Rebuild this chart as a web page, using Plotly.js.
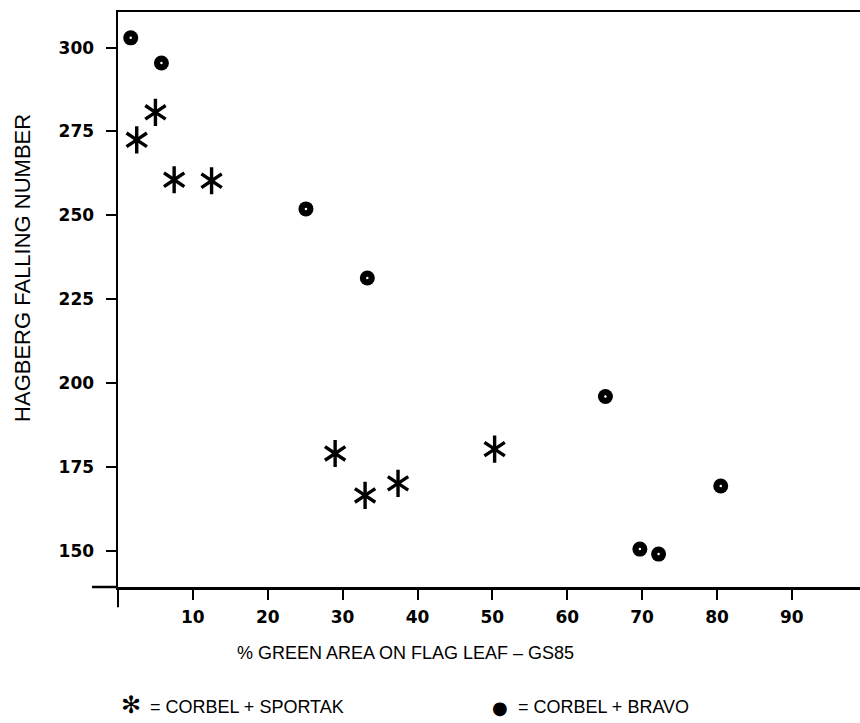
<!DOCTYPE html>
<html>
<head>
<meta charset="utf-8">
<script src="https://cdn.plot.ly/plotly-3.0.1.min.js"></script>
<style>html,body{margin:0;padding:0;background:#fff;}</style>
</head>
<body>
<div id="chart" style="width:860px;height:723px;"></div>
<script>
// Data
const sportakX = [2.5, 5.0, 7.5, 12.5, 29.0, 33.0, 37.4, 50.3];
const sportakY = [272.5, 280.7, 260.6, 260.3, 179.0, 166.5, 170.1, 180.3];
const bravoX = [1.7, 5.8, 25.1, 33.3, 65.1, 69.7, 72.2, 80.5];
const bravoY = [302.9, 295.4, 251.9, 231.3, 196.0, 150.5, 149.0, 169.3];
const xTicks = [10, 20, 30, 40, 50, 60, 70, 80, 90];
const yTicks = [150, 175, 200, 225, 250, 275, 300];
const xTitle = '% GREEN AREA ON FLAG LEAF \u2013 GS85';
const yTitle = 'HAGBERG FALLING NUMBER';
const sportakLabel = '= CORBEL + SPORTAK';
const bravoLabel = '= CORBEL + BRAVO';
const starGlyph = '\u273B';
const dotGlyph = '\u25CF';

const tickFont = {family: 'DejaVu Sans', size: 17, color: '#000', weight: 'bold'};
const titleFont = {family: 'Liberation Sans, Arial, sans-serif', size: 22, color: '#000'};
const legendFont = {family: 'Liberation Sans, Arial, sans-serif', size: 18, color: '#000'};

// six-armed asterisk built from two three-armed marker symbols
const starArms = ['y-up-open', 'y-down-open'];
const starTraces = starArms.map(sym => ({
  x: sportakX, y: sportakY, type: 'scatter', mode: 'markers',
  marker: {symbol: sym, size: 17, color: '#000', line: {width: 3.4, color: '#000'}},
  hoverinfo: 'skip', showlegend: false, cliponaxis: false
}));

const traces = starTraces.concat([
  {
    x: bravoX, y: bravoY, type: 'scatter', mode: 'markers',
    marker: {symbol: 'circle', size: 15, color: '#000', line: {width: 0}},
    hoverinfo: 'skip', showlegend: false, cliponaxis: false
  },
  {
    x: bravoX, y: bravoY, type: 'scatter', mode: 'markers',
    marker: {symbol: 'circle', size: 2.5, color: '#fff', line: {width: 0}},
    hoverinfo: 'skip', showlegend: false, cliponaxis: false
  }
]);

const layout = {
  width: 860, height: 723, autosize: false,
  margin: {l: 118, r: 0, t: 12, b: 136, pad: 0},
  paper_bgcolor: '#fff', plot_bgcolor: '#fff',
  showlegend: false,
  xaxis: {
    range: [0, 99.1], showgrid: false, zeroline: false,
    showline: true, linecolor: '#000', linewidth: 2.5, mirror: true,
    ticks: 'outside', ticklen: 10, tickwidth: 2, tickcolor: '#000',
    tickmode: 'array', tickvals: xTicks, ticktext: xTicks.map(String),
    tickfont: tickFont, ticklabelstandoff: 3
  },
  yaxis: {
    range: [139.2, 310.6], showgrid: false, zeroline: false,
    showline: true, linecolor: '#000', linewidth: 2.5, mirror: false,
    ticks: 'outside', ticklen: 10, tickwidth: 2, tickcolor: '#000',
    tickmode: 'array', tickvals: yTicks, ticktext: yTicks.map(String),
    tickfont: tickFont, ticklabelstandoff: 8
  },
  shapes: [
    {type: 'line', xref: 'paper', yref: 'paper', x0: -0.035, x1: 0, y0: 0, y1: 0,
     line: {color: '#000', width: 2.5}},
    {type: 'line', xref: 'paper', yref: 'paper', x0: 0, x1: 0, y0: 0, y1: -0.035,
     line: {color: '#000', width: 2}}
  ],
  annotations: [
    {text: yTitle, xref: 'paper', yref: 'paper', x: -0.128, y: 0.555,
     xanchor: 'center', yanchor: 'middle', textangle: -90, showarrow: false,
     font: titleFont},
    {text: xTitle, xref: 'paper', yref: 'paper', x: 0.387, y: -0.1148,
     xanchor: 'center', yanchor: 'middle', showarrow: false,
     font: {family: 'Liberation Sans, Arial, sans-serif', size: 18, color: '#000'}},
    {text: starGlyph, xref: 'paper', yref: 'paper', x: 0.0175, y: -0.205,
     xanchor: 'center', yanchor: 'middle', showarrow: false,
     font: {family: 'DejaVu Sans', size: 24, color: '#000'}},
    {text: sportakLabel, xref: 'paper', yref: 'paper', x: 0.040, y: -0.2087,
     xanchor: 'left', yanchor: 'middle', showarrow: false,
     font: legendFont},
    {text: dotGlyph, xref: 'paper', yref: 'paper', x: 0.515, y: -0.2087,
     xanchor: 'center', yanchor: 'middle', showarrow: false,
     font: {family: 'DejaVu Sans', size: 18, color: '#000'}},
    {text: bravoLabel, xref: 'paper', yref: 'paper', x: 0.537, y: -0.2087,
     xanchor: 'left', yanchor: 'middle', showarrow: false,
     font: legendFont}
  ]
};

Plotly.newPlot('chart', traces, layout, {staticPlot: true, displayModeBar: false});
</script>
</body>
</html>
